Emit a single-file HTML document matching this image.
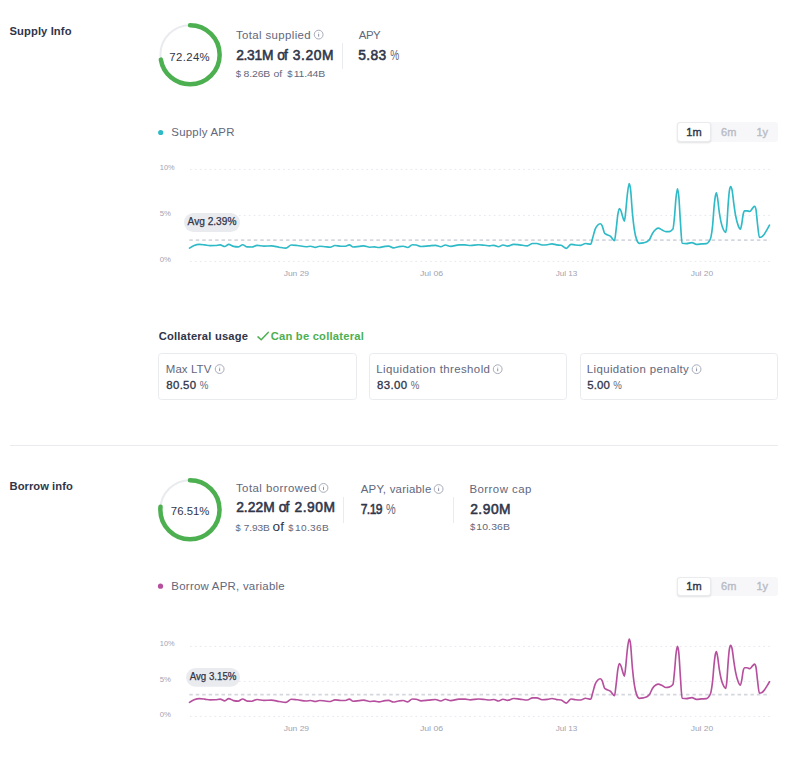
<!DOCTYPE html>
<html><head><meta charset="utf-8">
<style>
*{box-sizing:border-box;margin:0;padding:0}
html,body{width:791px;height:770px;background:#fff;overflow:hidden}
body{font-family:"Liberation Sans",sans-serif;color:#303549;position:relative}
.t{position:absolute;white-space:nowrap;line-height:1}
.h{font-size:11px;font-weight:700;color:#303549}
.lab{font-size:11px;color:#62677b;transform:scaleX(1.05);transform-origin:0 0}
.big{font-size:14px;font-weight:400;-webkit-text-stroke:0.55px #303549;color:#303549}
.big.pc{font-weight:400;color:#62677b;-webkit-text-stroke:0}
.sm{font-size:9.5px;color:#62677b;transform:scaleX(1.1);transform-origin:0 0}
.of{color:#303549}
.val{font-size:11px;color:#303549;transform:scaleX(1.05);transform-origin:0 0}
.val.pc{color:#62677b}
.val.m{-webkit-text-stroke:0.3px #303549}
.vd{position:absolute;width:1px;background:#eaebef}
.box{position:absolute;border:1px solid #eaebef;border-radius:3.5px;height:47px;top:353px}
.tg{position:absolute;left:677px;width:101px;height:19.5px;background:#f7f7f9;border-radius:3px}
.tg .on{position:absolute;left:0;top:0;width:34px;height:100%;background:#fff;border:1px solid #eaebef;border-radius:3px;box-shadow:0 1px 2px rgba(0,0,0,.12)}
.tg span{position:absolute;top:5px;font-size:11px;line-height:1;font-weight:400;-webkit-text-stroke:0.4px currentColor;color:#b9bcc7;transform:translateX(-50%)}
.tg span.s{color:#303549}
svg{position:absolute;left:0;top:0}
.ax{font-size:8px;fill:#a0a3b4;font-family:"Liberation Sans",sans-serif}
.avg{font-size:10px;fill:#303549;stroke:#303549;stroke-width:0.25px;font-family:"Liberation Sans",sans-serif}
</style></head><body>

<!-- Supply header -->
<div id="t1" class="t h" style="left:9.50px;transform:none;top:25.52px;font-size:11.2px;letter-spacing:0.107px;">Supply Info</div>
<div id="t2" class="t lab" style="left:235px;transform:translateX(0.94px) scaleX(1.05);transform-origin:0 0;top:30.47px;font-size:10.9px;letter-spacing:0.350px;">Total supplied</div>
<div id="t3" class="t big" style="left:236.15px;transform:none;top:48.52px;font-size:13.8px;letter-spacing:-0.263px;">2.31M</div>
<div id="t3b" class="t big" style="left:277.13px;transform:none;top:48.52px;font-size:13.8px;letter-spacing:-0.889px;">of</div>
<div id="t3c" class="t big" style="left:292.85px;transform:none;top:48.52px;font-size:13.8px;letter-spacing:0.576px;">3.20M</div>
<div id="t4a" class="t sm" style="left:235.71px;transform:none;top:68.86px;font-size:9.5px;letter-spacing:0.000px;">$</div>
<div id="t4b" class="t sm" style="left:243px;transform:translateX(0.57px) scaleX(1.1);transform-origin:0 0;top:68.86px;font-size:9.5px;letter-spacing:-0.141px;">8.26B</div>
<div id="t4c" class="t sm" style="left:273px;transform:translateX(0.62px) scaleX(1.1);transform-origin:0 0;top:68.86px;font-size:9.5px;letter-spacing:-0.194px;">of</div>
<div id="t4d" class="t sm" style="left:287.14px;transform:none;top:68.86px;font-size:9.5px;letter-spacing:0.000px;">$</div>
<div id="t4e" class="t sm" style="left:293px;transform:translateX(0.78px) scaleX(1.1);transform-origin:0 0;top:68.86px;font-size:9.5px;letter-spacing:-0.186px;">11.44B</div>
<div id="t5" class="t lab" style="left:358px;transform:translateX(0.85px) scaleX(1.05);transform-origin:0 0;top:30.47px;font-size:10.9px;letter-spacing:-0.538px;">APY</div>
<div id="t6" class="t big" style="left:358.20px;transform:none;top:49.22px;font-size:13.8px;letter-spacing:0.406px;">5.83</div>
<div id="t6b" class="t big pc" style="left:390px;transform:translateX(0.13px) scaleX(0.73);transform-origin:0 0;top:49.22px;font-size:13.8px;letter-spacing:0.000px;">%</div>
<div id="t7" class="t val" style="left:169px;transform:translateX(0.37px) scaleX(1.05);transform-origin:0 0;top:51.86px;font-size:10.8px;letter-spacing:0.350px;">72.24%</div>
<div id="t8" class="t lab" style="left:171px;transform:translateX(0.33px) scaleX(1.05);transform-origin:0 0;top:126.57px;font-size:10.9px;letter-spacing:0.215px;">Supply APR</div>
<div id="t9" class="t h" style="left:158.67px;transform:none;top:331.42px;font-size:11.2px;letter-spacing:0.195px;">Collateral usage</div>
<div id="t10" class="t h" style="left:270.69px;transform:none;top:331.42px;font-size:11.2px;letter-spacing:0.226px;color:#4caf50">Can be collateral</div>
<div id="t11" class="t lab" style="left:165px;transform:translateX(0.76px) scaleX(1.05);transform-origin:0 0;top:364.27px;font-size:10.9px;letter-spacing:0.096px;">Max LTV</div>
<div id="t12" class="t val m" style="left:166px;transform:translateX(0.33px) scaleX(1.05);transform-origin:0 0;top:379.57px;font-size:10.9px;letter-spacing:0.283px;">80.50</div>
<div id="t12b" class="t val pc" style="left:199px;transform:translateX(0.78px) scaleX(0.89);transform-origin:0 0;top:379.57px;font-size:10.9px;letter-spacing:0.000px;">%</div>
<div id="t13" class="t lab" style="left:376px;transform:translateX(0.33px) scaleX(1.05);transform-origin:0 0;top:364.27px;font-size:10.9px;letter-spacing:0.384px;">Liquidation threshold</div>
<div id="t14" class="t val m" style="left:376px;transform:translateX(0.92px) scaleX(1.05);transform-origin:0 0;top:379.57px;font-size:10.9px;letter-spacing:0.403px;">83.00</div>
<div id="t14b" class="t val pc" style="left:410px;transform:translateX(0.78px) scaleX(0.89);transform-origin:0 0;top:379.57px;font-size:10.9px;letter-spacing:0.000px;">%</div>
<div id="t15" class="t lab" style="left:586px;transform:translateX(0.86px) scaleX(1.05);transform-origin:0 0;top:364.27px;font-size:10.9px;letter-spacing:0.350px;">Liquidation penalty</div>
<div id="t16" class="t val m" style="left:587px;transform:translateX(0.35px) scaleX(1.05);transform-origin:0 0;top:379.57px;font-size:10.9px;letter-spacing:0.111px;">5.00</div>
<div id="t16b" class="t val pc" style="left:613px;transform:translateX(0.13px) scaleX(0.89);transform-origin:0 0;top:379.57px;font-size:10.9px;letter-spacing:0.000px;">%</div>
<div id="t17" class="t h" style="left:9.57px;transform:none;top:481.22px;font-size:11.2px;letter-spacing:0.042px;">Borrow info</div>
<div id="t18" class="t lab" style="left:235px;transform:translateX(0.94px) scaleX(1.05);transform-origin:0 0;top:483.47px;font-size:10.9px;letter-spacing:0.421px;">Total borrowed</div>
<div id="t19" class="t big" style="left:236.15px;transform:none;top:500.92px;font-size:13.8px;letter-spacing:0.059px;">2.22M</div>
<div id="t19b" class="t big" style="left:278.69px;transform:none;top:500.92px;font-size:13.8px;letter-spacing:-0.901px;">of</div>
<div id="t19c" class="t big" style="left:294.51px;transform:none;top:500.92px;font-size:13.8px;letter-spacing:0.520px;">2.90M</div>
<div id="t20a" class="t sm" style="left:235.56px;transform:none;top:523.81px;font-size:9.2px;letter-spacing:0.000px;">$</div>
<div id="t20" class="t sm" style="left:243px;transform:translateX(0.70px) scaleX(1.1);transform-origin:0 0;top:523.81px;font-size:9.2px;letter-spacing:-0.111px;">7.93B</div>
<div id="t21" class="t of" style="left:272.50px;transform:none;top:520.09px;font-size:13.6px;letter-spacing:0.092px;">of</div>
<div id="t22a" class="t sm" style="left:288.30px;transform:none;top:523.81px;font-size:9.2px;letter-spacing:0.000px;">$</div>
<div id="t22" class="t sm" style="left:295px;transform:translateX(0.03px) scaleX(1.1);transform-origin:0 0;top:523.81px;font-size:9.2px;letter-spacing:0.309px;">10.36B</div>
<div id="t23" class="t lab" style="left:360px;transform:translateX(0.75px) scaleX(1.05);transform-origin:0 0;top:483.67px;font-size:10.9px;letter-spacing:0.213px;">APY, variable</div>
<div id="t24" class="t big" style="left:360px;transform:translateX(0.72px) scaleX(0.88);transform-origin:0 0;top:503.12px;font-size:13.8px;letter-spacing:-0.686px;">7.19</div>
<div id="t24b" class="t big pc" style="left:385px;transform:translateX(0.96px) scaleX(0.79);transform-origin:0 0;top:503.12px;font-size:13.8px;letter-spacing:0.000px;">%</div>
<div id="t25" class="t lab" style="left:469px;transform:translateX(0.51px) scaleX(1.05);transform-origin:0 0;top:483.67px;font-size:10.9px;letter-spacing:0.417px;">Borrow cap</div>
<div id="t26" class="t big" style="left:470.18px;transform:none;top:503.32px;font-size:13.8px;letter-spacing:0.524px;">2.90M</div>
<div id="t27a" class="t sm" style="left:469.89px;transform:none;top:521.76px;font-size:9.5px;letter-spacing:0.000px;">$</div>
<div id="t27" class="t sm" style="left:476px;transform:translateX(0.18px) scaleX(1.1);transform-origin:0 0;top:521.76px;font-size:9.5px;letter-spacing:0.136px;">10.36B</div>
<div id="t28" class="t val" style="left:170px;transform:translateX(0.82px) scaleX(1.05);transform-origin:0 0;top:505.66px;font-size:10.8px;letter-spacing:0.022px;">76.51%</div>
<div id="t29" class="t lab" style="left:171px;transform:translateX(0.37px) scaleX(1.05);transform-origin:0 0;top:580.57px;font-size:10.9px;letter-spacing:0.229px;">Borrow APR, variable</div>
<div class="vd" style="left:342px;top:43px;height:26px"></div>

<div class="tg" style="top:122px"><div class="on"></div><span class="s" style="left:17px">1m</span><span style="left:51.7px">6m</span><span style="left:85.2px">1y</span></div>

<!-- Collateral -->
<div class="box" style="left:158px;width:199px"></div>
<div class="box" style="left:369px;width:198px"></div>
<div class="box" style="left:580px;width:198px"></div>

<div class="hr" style="position:absolute;left:10px;top:445px;width:768px;height:1px;background:#eaebef"></div>

<!-- Borrow header -->
<div class="vd" style="left:343px;top:497px;height:26px"></div>
<div class="vd" style="left:453px;top:497px;height:26px"></div>

<div class="tg" style="top:577px;height:19px"><div class="on"></div><span class="s" style="left:17px;top:4.2px">1m</span><span style="left:51.7px;top:4.2px">6m</span><span style="left:85.2px;top:4.2px">1y</span></div>

<svg width="791" height="770" viewBox="0 0 791 770">
  <defs>
    <g id="info"><circle cx="0" cy="0" r="4.4" fill="none" stroke="#a9acbb" stroke-width="1"/><rect x="-0.5" y="-0.8" width="1" height="2.8" fill="#8e92a3"/><rect x="-0.5" y="-2.4" width="1" height="0.9" fill="#8e92a3" opacity="0.45"/></g>
  </defs>
  <!-- circles -->
  <circle cx="190.05" cy="54.75" r="29.6" fill="none" stroke="#eaebef" stroke-width="2"/>
  <circle cx="190.05" cy="54.75" r="29.6" fill="none" stroke="#4caf50" stroke-width="4.5" stroke-linecap="round" stroke-dasharray="134.35 185.98" transform="rotate(-90 190.05 54.75)"/>
  <circle cx="189.95" cy="509.75" r="29.6" fill="none" stroke="#eaebef" stroke-width="2"/>
  <circle cx="189.95" cy="509.75" r="29.6" fill="none" stroke="#4caf50" stroke-width="4.5" stroke-linecap="round" stroke-dasharray="142.30 185.98" transform="rotate(-90 189.95 509.75)"/>

  <!-- info icons -->
  <use href="#info" x="318.65" y="34.6"/>
  <use href="#info" x="219.65" y="369.05"/>
  <use href="#info" x="497.7" y="369.2"/>
  <use href="#info" x="696.55" y="369.2"/>
  <use href="#info" x="323.5" y="487.9"/>
  <use href="#info" x="438.6" y="489"/>

  <!-- check -->
  <path d="M258,336.9 L261.2,339.8 L268.2,332.4" fill="none" stroke="#4caf50" stroke-width="1.5" stroke-linecap="round" stroke-linejoin="round"/>

  <!-- legend dots -->
  <circle cx="160.7" cy="132.5" r="2.6" fill="#2ebac6"/>
  <circle cx="160.5" cy="586.2" r="2.6" fill="#b6509e"/>

  <!-- supply chart -->
  <g stroke="#e6e8ee" stroke-width="1" stroke-dasharray="1.7 3.2">
    <line x1="190" x2="770" y1="169.4" y2="169.4"/>
    <line x1="190" x2="770" y1="215.4" y2="215.4"/>
    <line x1="190" x2="770" y1="261.4" y2="261.4"/>
  </g>
  <text class="ax" x="159.8" y="170" textLength="14.8" lengthAdjust="spacingAndGlyphs">10%</text>
  <text class="ax" x="159.8" y="216" textLength="11.2" lengthAdjust="spacingAndGlyphs">5%</text>
  <text class="ax" x="159.8" y="261.9" textLength="11.2" lengthAdjust="spacingAndGlyphs">0%</text>
  <text class="ax" x="283.7" y="275.9" textLength="25.4" lengthAdjust="spacingAndGlyphs">Jun 29</text>
  <text class="ax" x="419.9" y="275.9" textLength="23.3" lengthAdjust="spacingAndGlyphs">Jul 06</text>
  <text class="ax" x="555.7" y="275.9" textLength="21.7" lengthAdjust="spacingAndGlyphs">Jul 13</text>
  <text class="ax" x="690.7" y="275.9" textLength="22.5" lengthAdjust="spacingAndGlyphs">Jul 20</text>
  <line x1="189.3" x2="770" y1="240.1" y2="240.1" stroke="#d5d7df" stroke-width="1.6" stroke-dasharray="3.5 2.95"/>
  <path d="M189.5,248.1C191.03,247.11 192.57,246.11 194.1,245.5C195.87,244.80 197.63,244.40 199.4,244.4C201.17,244.40 202.93,244.70 204.7,244.9C206.47,245.10 208.23,245.60 210,245.6C211.77,245.60 213.53,245.57 215.3,245.5C216.93,245.44 218.57,244.90 220.2,244.9C221.73,244.90 223.27,246.50 224.8,246.5C226.10,246.50 227.40,244.40 228.7,244.4C230.33,244.40 231.97,246.04 233.6,246.4C235.10,246.73 236.60,246.90 238.1,246.9C239.63,246.90 241.17,244.70 242.7,244.7C244.20,244.70 245.70,246.83 247.2,246.9C248.73,246.97 250.27,247.00 251.8,247C253.57,247.00 255.33,245.30 257.1,245.3C259.37,245.30 261.63,246.10 263.9,246.1C266.43,246.10 268.97,245.90 271.5,245.9C274.03,245.90 276.57,246.82 279.1,247.2C281.37,247.54 283.63,248.10 285.9,248.1C287.67,248.10 289.43,245.00 291.2,245C293.23,245.00 295.27,245.29 297.3,245.5C300.23,245.81 303.17,246.70 306.1,246.7C307.60,246.70 309.10,246.20 310.6,246.2C312.13,246.20 313.67,247.30 315.2,247.3C316.70,247.30 318.20,246.20 319.7,246.2C321.47,246.20 323.23,246.53 325,246.7C326.77,246.87 328.53,247.20 330.3,247.2C331.83,247.20 333.37,245.50 334.9,245.5C336.93,245.50 338.97,246.20 341,246.2C342.50,246.20 344.00,246.20 345.5,246.2C346.77,246.20 348.03,244.90 349.3,244.9C350.57,244.90 351.83,247.00 353.1,247C355.13,247.00 357.17,246.61 359.2,246.4C360.70,246.24 362.20,245.90 363.7,245.9C365.73,245.90 367.77,247.20 369.8,247.2C371.33,247.20 372.87,246.90 374.4,246.9C375.90,246.90 377.40,247.50 378.9,247.5C380.93,247.50 382.97,246.64 385,246.4C386.27,246.25 387.53,246.10 388.8,246.1C390.30,246.10 391.80,247.80 393.3,247.8C395.07,247.80 396.83,246.97 398.6,246.7C400.13,246.46 401.67,246.20 403.2,246.2C404.70,246.20 406.20,247.50 407.7,247.5C409.23,247.50 410.77,244.70 412.3,244.7C413.57,244.70 414.83,244.80 416.1,245C417.77,245.26 419.43,246.50 421.1,246.5C423.63,246.50 426.17,246.11 428.7,245.9C430.97,245.71 433.23,245.30 435.5,245.3C437.27,245.30 439.03,246.70 440.8,246.7C442.30,246.70 443.80,245.00 445.3,245C447.10,245.00 448.90,246.40 450.7,246.4C453.47,246.40 456.23,244.90 459,244.9C461.03,244.90 463.07,244.90 465.1,244.9C466.87,244.90 468.63,245.50 470.4,245.5C473.17,245.50 475.93,244.70 478.7,244.7C480.73,244.70 482.77,245.09 484.8,245.3C486.33,245.46 487.87,245.80 489.4,245.8C490.90,245.80 492.40,245.30 493.9,245.3C495.43,245.30 496.97,246.70 498.5,246.7C500.00,246.70 501.50,245.00 503,245C504.53,245.00 506.07,246.10 507.6,246.1C509.60,246.10 511.60,244.30 513.6,244.3C515.63,244.30 517.67,244.68 519.7,244.9C522.23,245.17 524.77,245.80 527.3,245.8C529.07,245.80 530.83,243.50 532.6,243.5C534.00,243.50 535.40,243.50 536.8,243.5C538.57,243.50 540.33,245.00 542.1,245C543.90,245.00 545.70,244.90 547.5,244.7C549.00,244.53 550.50,243.80 552,243.8C553.53,243.80 555.07,244.65 556.6,244.9C558.10,245.14 559.60,245.03 561.1,245.3C562.87,245.61 564.63,248.40 566.4,248.4C567.93,248.40 569.47,244.30 571,244.3C572.50,244.30 574.00,244.83 575.5,245C577.27,245.19 579.03,245.30 580.8,245.3C582.33,245.30 583.87,243.50 585.4,243.5C587.17,243.50 588.93,244.20 590.7,244.2C591.33,244.20 591.97,240.30 592.6,238.2C593.43,235.44 594.27,231.55 595.1,229.4C595.93,227.25 596.77,226.25 597.6,225.3C598.47,224.31 599.33,223.70 600.2,223.7C600.83,223.70 601.47,224.41 602.1,225.6C602.93,227.17 603.77,232.20 604.6,233.2C605.43,234.20 606.27,234.26 607.1,234.7C608.17,235.26 609.23,235.33 610.3,236.1C611.70,237.11 613.10,240.70 614.5,240.7C615.00,240.70 615.50,234.39 616.0,230.6C616.63,225.81 617.27,217.96 617.9,214.2C618.40,211.23 618.90,208.50 619.4,208.5C619.93,208.50 620.47,209.73 621.0,211.0C621.63,212.51 622.27,215.59 622.9,217.4C623.40,218.83 623.90,221.10 624.4,221.1C624.83,221.10 625.27,215.43 625.7,211.7C626.27,206.82 626.83,198.62 627.4,194.0C628.00,189.10 628.60,183.60 629.2,183.6C629.63,183.60 630.07,185.63 630.5,188.9C631.13,193.68 631.77,206.15 632.4,212.9C633.03,219.65 633.67,225.10 634.3,229.4C635.13,235.05 635.97,238.05 636.8,240.1C637.67,242.23 638.53,243.30 639.4,243.3C640.67,243.30 641.93,243.16 643.2,242.9C644.43,242.65 645.67,242.53 646.9,241.8C647.77,241.28 648.63,240.72 649.5,239.5C650.53,238.04 651.57,234.87 652.6,233.2C653.67,231.48 654.73,230.27 655.8,229.4C656.63,228.72 657.47,228.10 658.3,228.1C659.57,228.10 660.83,229.42 662.1,230.0C663.37,230.58 664.63,231.60 665.9,231.6C666.97,231.60 668.03,231.60 669.1,231.6C670.37,231.60 671.63,230.77 672.9,229.1C673.43,228.40 673.97,222.17 674.5,216.7C675.00,211.57 675.50,202.47 676.0,197.8C676.50,193.13 677.00,188.70 677.5,188.7C677.93,188.70 678.37,191.99 678.8,196.5C679.33,202.05 679.87,214.19 680.4,221.8C680.97,229.89 681.53,243.22 682.1,243.3C683.50,243.50 684.90,243.60 686.3,243.6C688.20,243.60 690.10,242.60 692.0,242.6C693.47,242.60 694.93,244.30 696.4,244.3C698.10,244.30 699.80,244.02 701.5,243.9C703.17,243.78 704.83,243.80 706.5,243.6C707.37,243.50 708.23,242.87 709.1,241.4C709.73,240.33 710.37,239.90 711.0,236.9C711.53,234.37 712.07,230.91 712.6,225.6C713.10,220.62 713.60,211.75 714.1,206.6C714.53,202.14 714.97,198.23 715.4,195.9C715.73,194.10 716.07,192.70 716.4,192.7C716.83,192.70 717.27,196.17 717.7,199.0C718.20,202.26 718.70,208.09 719.2,211.7C719.83,216.27 720.47,219.54 721.1,222.4C721.93,226.16 722.77,228.28 723.6,230.0C724.23,231.30 724.87,232.50 725.5,232.5C725.93,232.50 726.37,230.20 726.8,225.6C727.20,221.35 727.60,212.14 728.0,206.6C728.43,200.60 728.87,194.60 729.3,191.4C729.73,188.20 730.17,186.60 730.6,186.6C731.10,186.60 731.60,187.80 732.1,190.2C732.63,192.76 733.17,198.89 733.7,202.8C734.33,207.44 734.97,212.02 735.6,215.5C736.47,220.27 737.33,223.31 738.2,225.6C738.93,227.54 739.67,229.10 740.4,229.1C740.90,229.10 741.40,225.76 741.9,223.0C742.33,220.61 742.77,216.16 743.2,214.2C743.70,211.93 744.20,210.80 744.7,210.8C745.47,210.80 746.23,210.80 747.0,210.8C747.93,210.80 748.87,211.40 749.8,211.4C750.77,211.40 751.73,209.12 752.7,208.1C753.33,207.43 753.97,206.20 754.6,206.2C755.03,206.20 755.47,207.17 755.9,209.1C756.40,211.33 756.90,218.82 757.4,223.0C758.07,228.57 758.73,237.30 759.4,237.3C760.10,237.30 760.80,237.17 761.5,236.9C762.37,236.57 763.23,235.49 764.1,234.4C765.13,233.10 766.17,231.19 767.2,229.4C767.97,228.07 768.73,226.63 769.5,225.2" fill="none" stroke="#2ebac6" stroke-width="1.65" stroke-linejoin="round" stroke-linecap="round"/>
  <rect x="184" y="213.1" width="56" height="18.8" rx="9.4" fill="#eaebef"/>
  <text class="avg" x="187.6" y="225" textLength="48.8" lengthAdjust="spacingAndGlyphs">Avg 2.39%</text>

  <!-- borrow chart -->
  <g stroke="#e6e8ee" stroke-width="1" stroke-dasharray="1.7 3.2">
    <line x1="190" x2="770" y1="646.4" y2="646.4"/>
    <line x1="190" x2="770" y1="681.4" y2="681.4"/>
    <line x1="190" x2="770" y1="716.4" y2="716.4"/>
  </g>
  <text class="ax" x="159.8" y="646" textLength="14.8" lengthAdjust="spacingAndGlyphs">10%</text>
  <text class="ax" x="159.8" y="681.9" textLength="11.2" lengthAdjust="spacingAndGlyphs">5%</text>
  <text class="ax" x="159.8" y="716.9" textLength="11.2" lengthAdjust="spacingAndGlyphs">0%</text>
  <text class="ax" x="283.7" y="730.9" textLength="25.4" lengthAdjust="spacingAndGlyphs">Jun 29</text>
  <text class="ax" x="419.9" y="730.9" textLength="23.3" lengthAdjust="spacingAndGlyphs">Jul 06</text>
  <text class="ax" x="555.7" y="730.9" textLength="21.7" lengthAdjust="spacingAndGlyphs">Jul 13</text>
  <text class="ax" x="690.7" y="730.9" textLength="22.5" lengthAdjust="spacingAndGlyphs">Jul 20</text>
  <line x1="189.3" x2="770" y1="694.6" y2="694.6" stroke="#d5d7df" stroke-width="1.6" stroke-dasharray="3.5 2.95"/>
  <path d="M189.5,702.4C191.03,701.41 192.57,700.43 194.1,699.8C195.87,699.08 197.63,698.60 199.4,698.6C201.17,698.60 202.93,698.88 204.7,699.1C206.47,699.32 208.23,699.90 210,699.9C211.77,699.90 213.53,699.87 215.3,699.8C216.93,699.74 218.57,699.10 220.2,699.1C221.73,699.10 223.27,700.80 224.8,700.8C226.10,700.80 227.40,698.60 228.7,698.6C230.33,698.60 231.97,700.24 233.6,700.6C235.10,700.93 236.60,701.10 238.1,701.1C239.63,701.10 241.17,699.00 242.7,699.0C244.20,699.00 245.70,701.03 247.2,701.1C248.73,701.17 250.27,701.20 251.8,701.2C253.57,701.20 255.33,699.50 257.1,699.5C259.37,699.50 261.63,700.40 263.9,700.4C266.43,700.40 268.97,700.10 271.5,700.1C274.03,700.10 276.57,701.10 279.1,701.5C281.37,701.86 283.63,702.40 285.9,702.4C287.67,702.40 289.43,699.20 291.2,699.2C293.23,699.20 295.27,699.57 297.3,699.8C300.23,700.13 303.17,701.00 306.1,701.0C307.60,701.00 309.10,700.50 310.6,700.5C312.13,700.50 313.67,701.50 315.2,701.5C316.70,701.50 318.20,700.50 319.7,700.5C321.47,700.50 323.23,700.83 325,701.0C326.77,701.17 328.53,701.50 330.3,701.5C331.83,701.50 333.37,699.80 334.9,699.8C336.93,699.80 338.97,700.50 341,700.5C342.50,700.50 344.00,700.50 345.5,700.5C346.77,700.50 348.03,699.10 349.3,699.1C350.57,699.10 351.83,701.20 353.1,701.2C355.13,701.20 357.17,700.81 359.2,700.6C360.70,700.44 362.20,700.10 363.7,700.1C365.73,700.10 367.77,701.50 369.8,701.5C371.33,701.50 372.87,701.10 374.4,701.1C375.90,701.10 377.40,701.80 378.9,701.8C380.93,701.80 382.97,700.81 385,700.6C386.27,700.47 387.53,700.40 388.8,700.4C390.30,700.40 391.80,702.00 393.3,702.0C395.07,702.00 396.83,701.26 398.6,701.0C400.13,700.78 401.67,700.50 403.2,700.5C404.70,700.50 406.20,701.80 407.7,701.8C409.23,701.80 410.77,699.00 412.3,699.0C413.57,699.00 414.83,699.07 416.1,699.2C417.77,699.38 419.43,700.80 421.1,700.8C423.63,700.80 426.17,700.33 428.7,700.1C430.97,699.90 433.23,699.50 435.5,699.5C437.27,699.50 439.03,701.00 440.8,701.0C442.30,701.00 443.80,699.20 445.3,699.2C447.10,699.20 448.90,700.60 450.7,700.6C453.47,700.60 456.23,699.10 459,699.1C461.03,699.10 463.07,699.10 465.1,699.1C466.87,699.10 468.63,699.80 470.4,699.8C473.17,699.80 475.93,699.00 478.7,699.0C480.73,699.00 482.77,699.30 484.8,699.5C486.33,699.65 487.87,700.00 489.4,700.0C490.90,700.00 492.40,699.50 493.9,699.5C495.43,699.50 496.97,701.00 498.5,701.0C500.00,701.00 501.50,699.20 503,699.2C504.53,699.20 506.07,700.40 507.6,700.4C509.60,700.40 511.60,698.50 513.6,698.5C515.63,698.50 517.67,698.88 519.7,699.1C522.23,699.37 524.77,700.00 527.3,700.0C529.07,700.00 530.83,697.80 532.6,697.8C534.00,697.80 535.40,697.80 536.8,697.8C538.57,697.80 540.33,699.70 542.1,699.7C543.90,699.70 545.70,699.60 547.5,699.4C549.00,699.23 550.50,698.50 552,698.5C553.53,698.50 555.07,699.35 556.6,699.6C558.10,699.84 559.60,699.73 561.1,700.0C562.87,700.31 564.63,703.10 566.4,703.1C567.93,703.10 569.47,699.00 571,699.0C572.50,699.00 574.00,699.53 575.5,699.7C577.27,699.89 579.03,700.00 580.8,700.0C582.33,700.00 583.87,698.20 585.4,698.2C587.17,698.20 588.93,699.20 590.7,699.2C591.33,699.20 591.97,695.30 592.6,693.2C593.43,690.44 594.27,686.55 595.1,684.4C595.93,682.25 596.77,681.25 597.6,680.3C598.47,679.31 599.33,678.70 600.2,678.7C600.83,678.70 601.47,679.41 602.1,680.6C602.93,682.17 603.77,687.20 604.6,688.2C605.43,689.20 606.27,689.26 607.1,689.7C608.17,690.26 609.23,690.33 610.3,691.1C611.70,692.11 613.10,695.70 614.5,695.7C615.00,695.70 615.50,689.39 616.0,685.6C616.63,680.81 617.27,672.96 617.9,669.2C618.40,666.23 618.90,663.50 619.4,663.5C619.93,663.50 620.47,664.73 621.0,666.0C621.63,667.51 622.27,670.59 622.9,672.4C623.40,673.83 623.90,676.10 624.4,676.1C624.83,676.10 625.27,670.43 625.7,666.7C626.27,661.82 626.83,653.55 627.4,649.0C628.00,644.18 628.60,639.10 629.2,639.1C629.63,639.10 630.07,640.73 630.5,643.9C631.13,648.54 631.77,661.15 632.4,667.9C633.03,674.65 633.67,680.10 634.3,684.4C635.13,690.05 635.97,693.05 636.8,695.1C637.67,697.23 638.53,698.30 639.4,698.3C640.67,698.30 641.93,698.16 643.2,697.9C644.43,697.65 645.67,697.53 646.9,696.8C647.77,696.28 648.63,695.72 649.5,694.5C650.53,693.04 651.57,689.78 652.6,688.2C653.67,686.57 654.73,685.68 655.8,685.0C656.63,684.47 657.47,684.10 658.3,684.1C659.57,684.10 660.83,685.03 662.1,685.6C663.37,686.17 664.63,687.50 665.9,687.5C666.97,687.50 668.03,687.37 669.1,687.1C670.37,686.78 671.63,686.27 672.9,684.6C673.43,683.90 673.97,677.03 674.5,671.7C675.00,666.70 675.50,658.22 676.0,654.0C676.50,649.78 677.00,646.40 677.5,646.4C677.93,646.40 678.37,648.71 678.8,652.8C679.33,657.83 679.87,669.41 680.4,676.8C680.97,684.65 681.53,698.22 682.1,698.3C683.50,698.50 684.90,698.60 686.3,698.6C688.20,698.60 690.10,697.60 692.0,697.6C693.47,697.60 694.93,699.30 696.4,699.3C698.10,699.30 699.80,699.02 701.5,698.9C703.17,698.78 704.83,698.80 706.5,698.6C707.37,698.50 708.23,697.87 709.1,696.4C709.73,695.33 710.37,694.88 711.0,691.9C711.53,689.39 712.07,686.06 712.6,681.2C713.10,676.64 713.60,668.83 714.1,664.1C714.53,660.00 714.97,656.08 715.4,654.0C715.73,652.40 716.07,651.50 716.4,651.5C716.83,651.50 717.27,654.65 717.7,657.2C718.20,660.14 718.70,665.30 719.2,668.6C719.83,672.78 720.47,676.00 721.1,678.7C721.93,682.25 722.77,684.24 723.6,685.9C724.23,687.16 724.87,688.40 725.5,688.4C725.93,688.40 726.37,686.18 726.8,681.8C727.20,677.76 727.60,669.31 728.0,664.1C728.43,658.46 728.87,652.40 729.3,649.6C729.73,646.80 730.17,645.40 730.6,645.4C731.10,645.40 731.60,646.50 732.1,648.7C732.63,651.05 733.17,656.69 733.7,660.3C734.33,664.59 734.97,668.83 735.6,672.1C736.47,676.58 737.33,679.59 738.2,681.8C738.93,683.67 739.67,685.20 740.4,685.2C740.90,685.20 741.40,681.99 741.9,679.3C742.33,676.97 742.77,672.43 743.2,670.7C743.70,668.70 744.20,667.70 744.7,667.7C745.47,667.70 746.23,667.70 747.0,667.7C747.93,667.70 748.87,668.60 749.8,668.6C750.77,668.60 751.73,666.57 752.7,665.7C753.33,665.13 753.97,664.10 754.6,664.1C755.03,664.10 755.47,664.97 755.9,666.7C756.40,668.70 756.90,675.41 757.4,679.3C758.07,684.49 758.73,693.20 759.4,693.2C760.10,693.20 760.80,693.07 761.5,692.8C762.37,692.47 763.23,691.45 764.1,690.4C765.13,689.15 766.17,687.26 767.2,685.6C767.97,684.37 768.73,683.08 769.5,681.8" fill="none" stroke="#b6509e" stroke-width="1.65" stroke-linejoin="round" stroke-linecap="round"/>
  <rect x="186.1" y="668.1" width="53.9" height="18.7" rx="9.35" fill="#eaebef"/>
  <text class="avg" x="189.7" y="680" textLength="46.7" lengthAdjust="spacingAndGlyphs">Avg 3.15%</text>
</svg>
</body></html>
